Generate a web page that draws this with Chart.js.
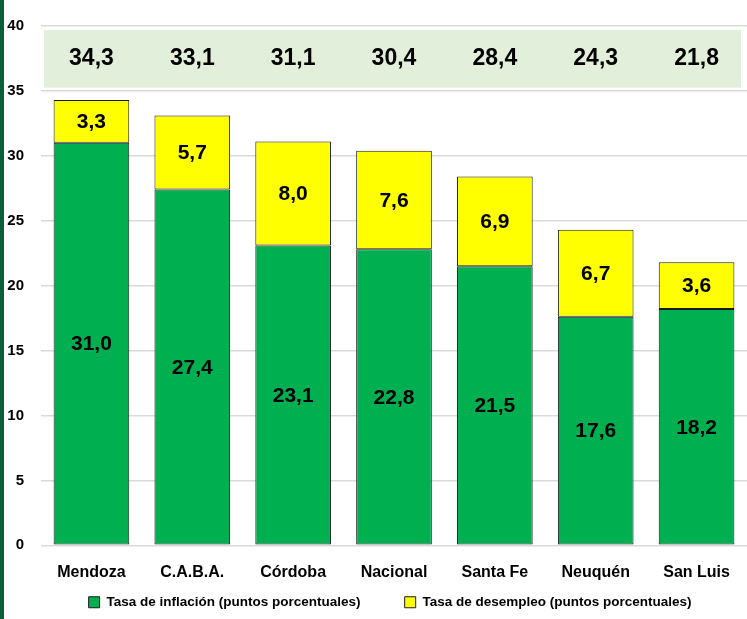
<!DOCTYPE html>
<html>
<head>
<meta charset="utf-8">
<script src="https://cdn.jsdelivr.net/npm/chart.js@4.4.0/dist/chart.umd.min.js"></script>
<style>
  html, body { margin: 0; padding: 0; background: #fff; }
  #wrap { width: 747px; height: 619px; position: relative; }
  #strip { position: absolute; left: 0; top: 0; width: 4px; height: 619px; background: #0b5e3b; }
  canvas { display: block; }
</style>
</head>
<body>
<div id="wrap">
  <div id="strip"></div>
  <canvas id="chart" width="747" height="619"></canvas>
</div>
<script>
const provincias = ['Mendoza', 'C.A.B.A.', 'Córdoba', 'Nacional', 'Santa Fe', 'Neuquén', 'San Luis'];
const inflacion = [31.0, 27.4, 23.1, 22.8, 21.5, 17.6, 18.2];
const desempleo = [3.3, 5.7, 8.0, 7.6, 6.9, 6.7, 3.6];
const totales = [34.3, 33.1, 31.1, 30.4, 28.4, 24.3, 21.8];
const yTicks = [0, 5, 10, 15, 20, 25, 30, 35, 40];

const fmt = v => v.toFixed(1).replace('.', ',');
const FONT = "'Liberation Sans', Arial, sans-serif";

Chart.defaults.font.family = FONT;
Chart.defaults.color = '#000';

// labels inside the bars + band with totals on top
const labelsPlugin = {
    id: 'labels',
    beforeDatasetsDraw(chart) {
        const { ctx, chartArea, scales } = chart;
        const yTop = scales.y.getPixelForValue(39.7);
        const yBot = scales.y.getPixelForValue(35.25);
        ctx.save();
        ctx.fillStyle = '#e2efda';
        ctx.fillRect(chartArea.left + 3, yTop, chartArea.right - chartArea.left - 9, yBot - yTop);
        ctx.restore();
    },
    afterDatasetsDraw(chart) {
        const { ctx, scales } = chart;
        ctx.save();
        ctx.fillStyle = '#000';
        ctx.textAlign = 'center';
        ctx.textBaseline = 'middle';
        ctx.font = 'bold 21px ' + FONT;
        chart.data.datasets.forEach((ds, i) => {
            chart.getDatasetMeta(i).data.forEach((bar, j) => {
                const p = bar.getProps(['x', 'y', 'base'], true);
                ctx.fillText(fmt(ds.data[j]), p.x, (p.y + p.base) / 2 + 1);
            });
        });
        ctx.font = 'bold 23px ' + FONT;
        const yMid = scales.y.getPixelForValue(37.5);
        totales.forEach((t, j) => {
            ctx.fillText(fmt(t), scales.x.getPixelForValue(j), yMid);
        });
        ctx.restore();
    }
};

new Chart(document.getElementById('chart'), {
    type: 'bar',
    data: {
        labels: provincias,
        datasets: [{
            label: 'Tasa de inflación (puntos porcentuales)',
            data: inflacion,
            backgroundColor: '#00b050',
            borderColor: '#1a1a1a',
            borderWidth: 1,
            borderSkipped: false,
            barPercentage: 0.75,
            categoryPercentage: 1
        }, {
            label: 'Tasa de desempleo (puntos porcentuales)',
            data: desempleo,
            backgroundColor: '#ffff00',
            borderColor: '#1a1a1a',
            borderWidth: 1,
            borderSkipped: false,
            barPercentage: 0.75,
            categoryPercentage: 1
        }]
    },
    options: {
        responsive: false,
        animation: false,
        layout: { padding: { top: 17, right: 0, left: 0, bottom: 0 } },
        plugins: {
            legend: {
                position: 'bottom',
                align: 'end',
                labels: {
                    boxWidth: 11,
                    boxHeight: 11,
                    padding: 3,
                    font: { size: 13.5, weight: 'bold' },
                    color: '#000',
                    // gap between entries and offset to the right, like the original
                    generateLabels: chart => {
                        const items = Chart.defaults.plugins.legend.labels.generateLabels(chart);
                        items[0].text += '\u00a0'.repeat(11);
                        items[1].text += '\u00a0'.repeat(14);
                        items.forEach(it => { it.strokeStyle = '#1a1a1a'; it.lineWidth = 1; });
                        return items;
                    }
                }
            },
            tooltip: { enabled: false }
        },
        scales: {
            x: {
                stacked: true,
                grid: { display: false },
                border: { display: false },
                ticks: { font: { size: 16, weight: 'bold' }, padding: 10 }
            },
            y: {
                stacked: true,
                min: 0,
                max: 40,
                afterBuildTicks: axis => { axis.ticks = yTicks.map(v => ({ value: v })); },
                afterFit: axis => { axis.width = 41; },
                grid: { color: '#d9d9d9', lineWidth: 1.5, drawTicks: false },
                border: { display: false },
                ticks: { font: { size: 15, weight: 'bold' }, padding: 17 }
            }
        }
    },
    plugins: [labelsPlugin]
});
</script>
</body>
</html>
